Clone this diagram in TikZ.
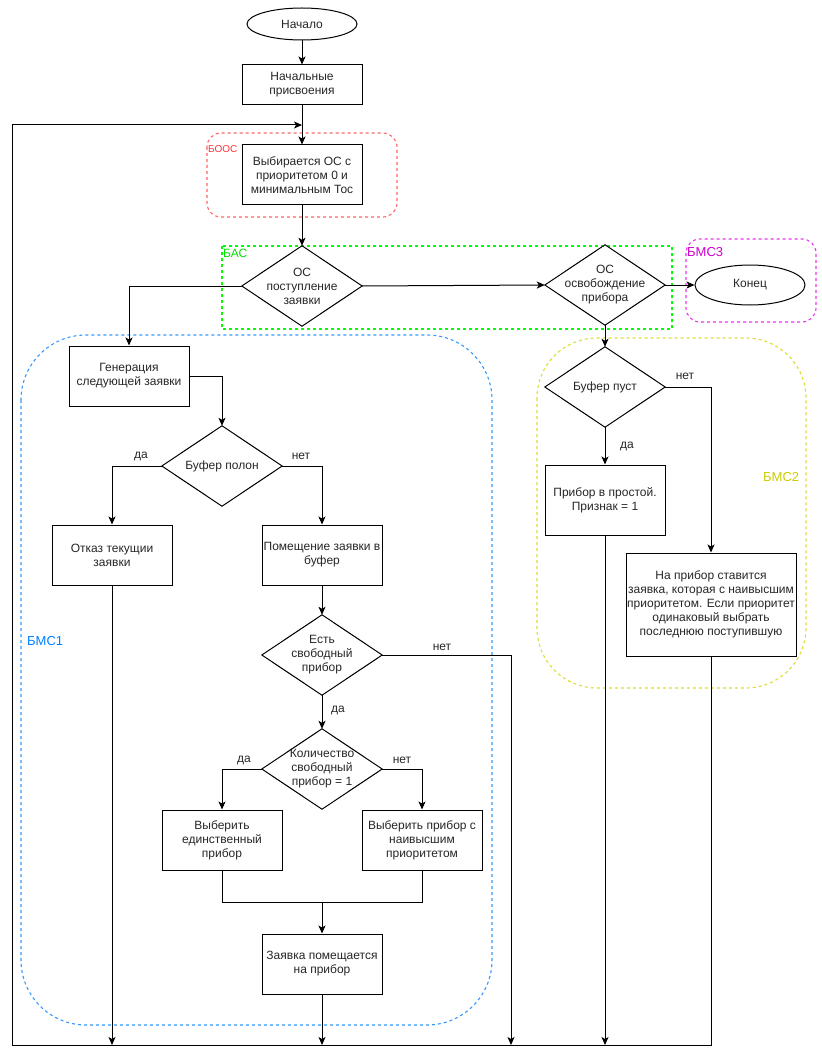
\documentclass[tikz,border=0pt]{standalone}
\usepackage{fontspec}
\setmainfont{Liberation Sans}
\usetikzlibrary{arrows.meta,calc,shapes.geometric}
\definecolor{cRed}{HTML}{FF6666}
\definecolor{cRedT}{HTML}{FF3333}
\definecolor{cGreen}{HTML}{00FF00}
\definecolor{cGreenT}{HTML}{00E000}
\definecolor{cMag}{HTML}{EE33EE}
\definecolor{cMagT}{HTML}{CC00CC}
\definecolor{cBlue}{HTML}{3399FF}
\definecolor{cBlueT}{HTML}{007FFF}
\definecolor{cYel}{HTML}{DDDD33}
\definecolor{cYelT}{HTML}{CCCC00}
\tikzset{
  base/.style={inner sep=0pt, align=center, font=\fontsize{12}{14}\selectfont, text=black!85},
  proc/.style={base, draw, line width=1pt, minimum width=120pt, minimum height=60pt},
  ell/.style={base, draw, line width=1pt, ellipse, minimum width=110pt, minimum height=32pt},
  dia/.style={base, minimum width=120pt, minimum height=80pt},
  lbl/.style={base},
  arr/.style={line width=1pt, -{Stealth[length=8pt,width=7pt,inset=2pt]}},
  ln/.style={line width=1pt},
  grp/.style={line width=1.1pt, dash pattern=on 3pt off 3pt},
  glbl/.style={inner sep=0pt, anchor=west, font=\fontsize{12}{14}\selectfont}
}
\begin{document}
\begin{tikzpicture}[x=1pt,y=-1pt]
\useasboundingbox (0,0) rectangle (821,1059);
% groups
\draw[grp, cRed, rounded corners=14pt] (207,133) rectangle (397,217);
\node[glbl, cRedT, font=\fontsize{10}{12}\selectfont] (gbooc) at (208,149) {БООС};
\draw[grp, cGreen] (222,246) rectangle (672,329);
\node[glbl, cGreenT] (gbac) at (223,253) {БАС};
\draw[grp, cMag, rounded corners=14pt] (686,239) rectangle (816,322);
\node[glbl, cMagT, font=\fontsize{13}{15}\selectfont] (gbms3) at (687,252) {БМС3};
\draw[grp, cBlue, rounded corners=65pt] (21,335) rectangle (492,1025);
\node[glbl, cBlueT, font=\fontsize{13}{15}\selectfont] (gbms1) at (27,641) {БМС1};
\draw[grp, cYel, rounded corners=60pt] (537,338) rectangle (806,688);
\node[glbl, cYelT, font=\fontsize{13}{15}\selectfont] (gbms2) at (763,477) {БМС2};

% nodes
\node[ell] (start) at (302,24) {Начало};
\node[proc, minimum height=40pt] (init) at (302,85) {Начальные\\присвоения};
\coordinate (loopend) at (302,125);
\node[proc] (sel) at (302,175) {Выбирается ОС с\\приоритетом 0 и\\минимальным Тос};
\node[dia] (d1) at (302,286) {ОС\\поступление\\заявки};
\node[dia] (d2) at (605,285) {ОС\\освобождение\\прибора};
\node[ell, minimum height=40pt] (end) at (750,285) {Конец};
\node[proc] (gen) at (129,376) {Генерация\\следующей заявки};
\node[dia] (bfull) at (222,466) {Буфер полон};
\node[proc] (otk) at (112,555) {Отказ текущии\\заявки};
\node[proc] (put) at (322,555) {Помещение заявки в\\буфер};
\node[dia] (free) at (322,655) {Есть\\свободный\\прибор};
\node[dia] (cnt) at (322,769) {Количество\\свободный\\прибор = 1};
\node[proc] (one) at (222,840) {Выберить\\единственный\\прибор};
\node[proc] (prio) at (422,840) {Выберить прибор с\\наивысшим\\приоритетом};
\node[proc] (place) at (322,964) {Заявка помещается\\на прибор};
\node[dia] (bempty) at (605,387) {Буфер пуст};
\node[proc, minimum height=70pt] (idle) at (605,500) {Прибор в простой.\\Признак = 1};
\node[proc, minimum width=170pt, minimum height=103pt] (next) at (711,604.5) {На прибор ставится\\заявка, которая с наивысшим\\приоритетом. Если приоритет\\одинаковый выбрать\\последнюю поступившую};

\foreach \n in {d1,d2,bfull,free,cnt,bempty}
  \draw[ln] (\n.north) -- (\n.east) -- (\n.south) -- (\n.west) -- cycle;

% labels
\node[lbl] (l1) at (141,456) {да};
\node[lbl] (l2) at (301,456) {нет};
\node[lbl] (l3) at (442,647) {нет};
\node[lbl] (l4) at (338,710) {да};
\node[lbl] (l5) at (244,760) {да};
\node[lbl] (l6) at (402,760) {нет};
\node[lbl] (l7) at (685,376) {нет};
\node[lbl] (l8) at (627,446) {да};

% coordinates
\coordinate (bl) at (12,1045);
\coordinate (tl) at (12,125);
\coordinate (merge) at (322,902);

% connectors
\draw[arr] (start) -- (init);
\draw[arr] (init) -- (sel);
\draw[arr] (sel) -- (d1.north);
\draw[arr] (d1.east) -- (d2.west);
\draw[arr] (d2.east) -- (end.west);
\draw[arr] (d1.west) -| (gen.north);
\draw[arr] (gen.east) -| (bfull.north);
\draw[arr] (bfull.west) -| (otk.north);
\draw[arr] (bfull.east) -| (put.north);
\draw[arr] (put.south) -- (free.north);
\draw[arr] (free.east) -| ($(bl)+(499,0)$);
\draw[arr] (free.south) -- (cnt.north);
\draw[arr] (cnt.west) -| (one.north);
\draw[arr] (cnt.east) -| (prio.north);
\draw[ln] (one.south) |- (merge) -| (prio.south);
\draw[arr] (merge) -- (place.north);
\draw[arr] (place.south) -- (place.south |- bl);
\draw[arr] (otk.south) -- (otk.south |- bl);
\draw[arr] (d2.south) -- (bempty.north);
\draw[arr] (bempty.south) -- (idle.north);
\draw[arr] (bempty.east) -| (next.north);
\draw[arr] (idle.south) -- (idle.south |- bl);
\draw[arr] (next.south) |- (bl) -- (tl) -- (loopend);
\end{tikzpicture}
\end{document}
